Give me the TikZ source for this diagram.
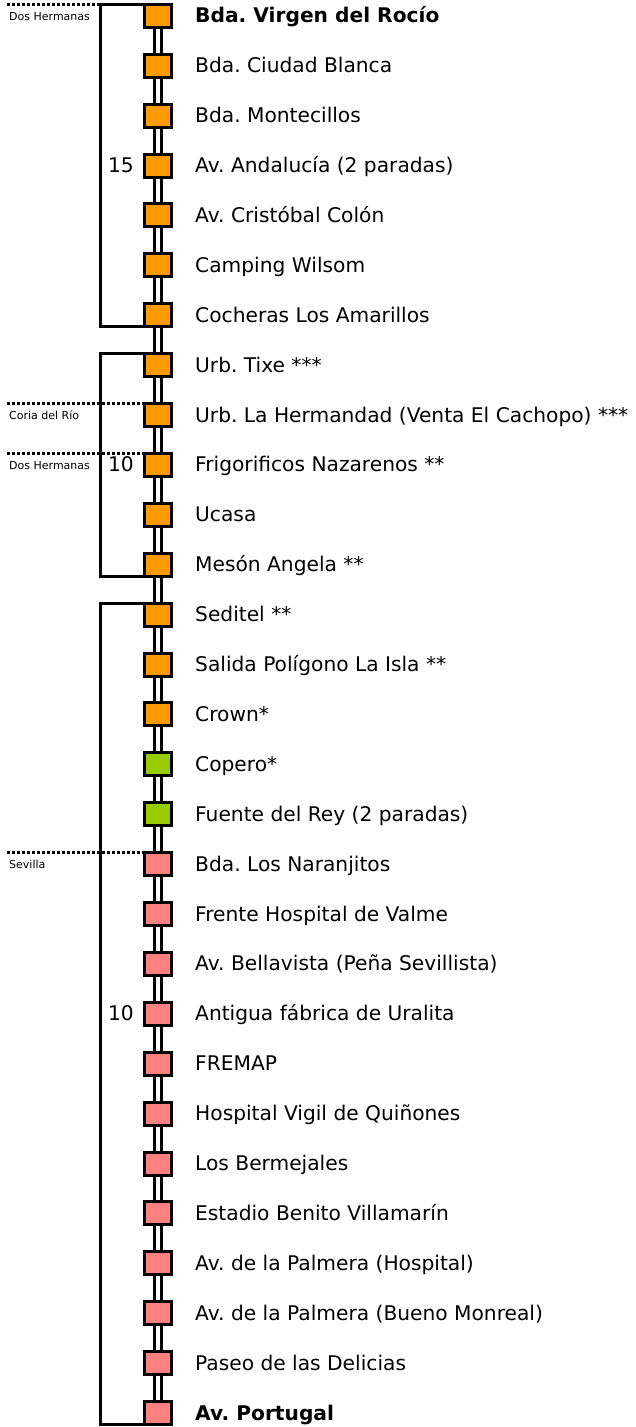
\documentclass[tikz,border=0pt]{standalone}
\usepackage{fontspec}
\setmainfont{DejaVu Sans}
\frenchspacing
\definecolor{stopor}{RGB}{255,153,0}
\definecolor{stopgr}{RGB}{153,204,0}
\definecolor{stoppk}{RGB}{255,128,128}
\begin{document}
\frenchspacing
\begin{tikzpicture}[x=1pt,y=-1pt,
  stopbox/.style={draw=black, line width=3pt, minimum width=27pt, minimum height=23pt, inner sep=0pt, outer sep=0pt},
  rail/.style={draw=black, line width=3pt, double=white, double distance=4pt},
  bracket/.style={draw=black, line width=3pt, line join=miter},
  dotline/.style={draw=black, line width=3pt, dash pattern=on 3pt off 2pt},
  lbl/.style={font=\fontsize{20.2}{24}\selectfont, inner sep=0pt, anchor=base west},
  num/.style={font=\fontsize{20.2}{24}\selectfont, inner sep=0pt, anchor=base east},
  town/.style={font=\fontsize{11}{13}\selectfont, inner sep=0pt, anchor=base west}]
\useasboundingbox (0,0) rectangle (635,1427);
% station positions
\foreach \i in {1,...,29}{
  \coordinate (p\i) at (158,{15.8+(\i-1)*49.9});
}
\coordinate (bx) at (100.5,0);
\coordinate (dx) at (7,0);
\coordinate (tx) at (9,0);
\coordinate (nx) at (134,0);
\coordinate (lx) at (195,0);
% rails
\foreach \i [evaluate=\i as \j using int(\i+1)] in {1,...,28}{
  \draw[rail] (p\i) -- (p\j);
}
% stops
\foreach \i/\c in {1/stopor,2/stopor,3/stopor,4/stopor,5/stopor,6/stopor,7/stopor,8/stopor,9/stopor,10/stopor,11/stopor,12/stopor,13/stopor,14/stopor,15/stopor,16/stopgr,17/stopgr,18/stoppk,19/stoppk,20/stoppk,21/stoppk,22/stoppk,23/stoppk,24/stoppk,25/stoppk,26/stoppk,27/stoppk,28/stoppk,29/stoppk}{
  \node[stopbox, fill=\c] (s\i) at (p\i) {};
}
% brackets
\draw[bracket] (s1.north west) -- (s1.north west -| bx) -- (s7.south west -| bx) -- (s7.south west);
\draw[bracket] (s8.north west) -- (s8.north west -| bx) -- (s12.south west -| bx) -- (s12.south west);
\draw[bracket] (s13.north west) -- (s13.north west -| bx) -- (s29.south west -| bx) -- (s29.south west);
% redraw stops over bracket ends
\foreach \i/\c in {1/stopor,7/stopor,8/stopor,12/stopor,13/stopor,29/stoppk}{
  \node[stopbox, fill=\c] at (p\i) {};
}
% municipal boundaries
\draw[dotline] (s1.north west -| dx) -- (s1.north west -| bx);
\draw[dotline] (s9.north west -| dx) -- (s9.north west);
\draw[dotline] (s10.north west -| dx) -- (s10.north west);
\draw[dotline] (s18.north west -| dx) -- (s18.north west);
\node[town, yshift=-16pt] (tw1) at (s1.north west -| tx) {Dos Hermanas};
\node[town, yshift=-16pt] (tw2) at (s9.north west -| tx) {Coria del Río};
\node[town, yshift=-16pt] (tw3) at (s10.north west -| tx) {Dos Hermanas};
\node[town, yshift=-16pt] (tw4) at (s18.north west -| tx) {Sevilla};
% frequencies
\node[num, yshift=-7pt] (n1) at (p4 -| nx) {15};
\node[num, yshift=-7pt] (n2) at (p10 -| nx) {10};
\node[num, yshift=-7pt] (n3) at (p21 -| nx) {10};
% station names
\foreach \i/\t in {1/{\textbf{Bda. Virgen del Rocío}},2/Bda. Ciudad Blanca,3/Bda. Montecillos,4/Av. Andalucía (2 paradas),5/Av. Cristóbal Colón,6/Camping Wilsom,7/Cocheras Los Amarillos,8/Urb. Tixe ***,9/Urb. La Hermandad (Venta El Cachopo) ***,10/Frigorificos Nazarenos **,11/Ucasa,12/Mesón Angela **,13/Seditel **,14/Salida Polígono La Isla **,15/Crown*,16/Copero*,17/Fuente del Rey (2 paradas),18/Bda. Los Naranjitos,19/Frente Hospital de Valme,20/Av. Bellavista (Peña Sevillista),21/Antigua fábrica de Uralita,22/FREMAP,23/Hospital Vigil de Quiñones,24/Los Bermejales,25/Estadio Benito Villamarín,26/Av. de la Palmera (Hospital),27/Av. de la Palmera (Bueno Monreal),28/Paseo de las Delicias,29/{\textbf{Av. Portugal}}}{
  \node[lbl, yshift=-7pt] (t\i) at (p\i -| lx) {\t};
}
\end{tikzpicture}
\end{document}
